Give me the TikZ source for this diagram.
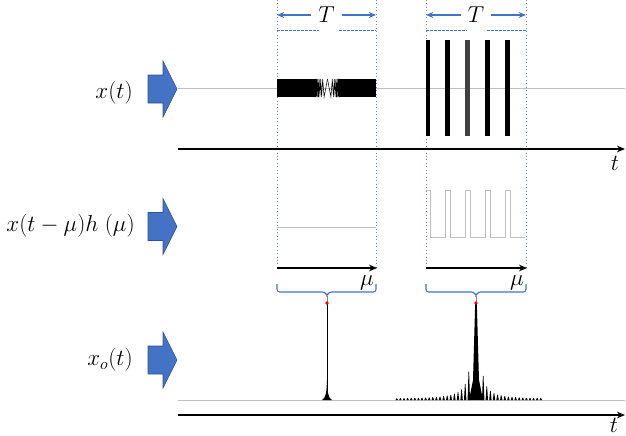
\documentclass[tikz,border=0pt]{standalone}
\usetikzlibrary{arrows.meta}
\definecolor{ppblue}{HTML}{4472C4}
\definecolor{ppdark}{HTML}{2F528F}
\begin{document}
\begin{tikzpicture}[x=0.75pt,y=0.75pt,
  lbl/.style={font=\fontsize{17}{20}\selectfont, inner sep=0pt},
  blockarrow/.style={fill=ppblue, draw=ppdark, line width=0.4pt},
  guide/.style={draw=ppblue!80, dotted, line width=0.6pt},
  hdash/.style={draw=ppblue, dash pattern=on 2pt off 1pt, line width=0.6pt},
  tarrow/.style={draw=ppblue, line width=0.8pt, -{Stealth[length=5.5pt,width=4.5pt]}},
  axis/.style={draw=black, line width=0.8pt, -{Stealth[length=6pt,width=5pt]}},
  base/.style={draw=black!25, line width=0.5pt},
  bracestyle/.style={draw=ppblue, line width=0.8pt, rounded corners=2pt},
  reddot/.style={fill=red},
]
\useasboundingbox (0,0) rectangle (626,-436);

% guides
\foreach \x in {277,376,426,526} \draw[guide] (\x,0) -- (\x,-268);
\draw[hdash] (277,-30) -- (319,-30) (339,-30) -- (376,-30);
\draw[hdash] (426,-30) -- (467,-30) (487,-30) -- (526,-30);

% T arrows
\node[lbl, inner xsep=5pt] (T1) at (326.5,-15) {$T$};
\coordinate (T1l) at (277,-15); \coordinate (T1r) at (376,-15);
\draw[tarrow] (T1) -- (T1l); \draw[tarrow] (T1) -- (T1r);
\node[lbl, inner xsep=5pt] (T2) at (476,-15) {$T$};
\coordinate (T2l) at (426,-15); \coordinate (T2r) at (526,-15);
\draw[tarrow] (T2) -- (T2l); \draw[tarrow] (T2) -- (T2r);

% labels and block arrows
\node[lbl, anchor=east] (lx) at (133,-93) {$x(t)$};
\node[lbl, anchor=east] (lxh) at (135,-226) {$x(t-\mu)h\;(\mu)$};
\node[lbl, anchor=east] (lxo) at (133,-360) {$x_o(t)$};
\foreach \c in {89,226.5,360}{
  \filldraw[blockarrow] (148,-\c+14) -- (163,-\c+14) -- (163,-\c+28) -- (177,-\c) -- (163,-\c-28) -- (163,-\c-14) -- (148,-\c-14) -- cycle;
}

% row 1
\draw[base] (178,-88) -- (625,-88);
\fill (277,-79) rectangle (316,-97);
\fill (339,-79) rectangle (376,-97);
\draw[line width=0.4pt] (327.5,-79) \foreach \n in {1,...,15}{ -- ({327.5-3.4*sqrt(\n)},{-88+9*cos(180*\n)}) };
\draw[line width=0.4pt] (327.5,-79) \foreach \n in {1,...,15}{ -- ({327.5+3.4*sqrt(\n)},{-88+9*cos(180*\n)}) };
\foreach \a/\b in {426/430,445/450,485/490,505/510} \fill (\a+0.3,-40) rectangle (\b-0.5,-136);
\fill[black!75] (465.3,-40) rectangle (469.5,-136);
\coordinate (a1s) at (178,-149); \coordinate (a1e) at (625,-149);
\draw[axis] (a1s) -- (a1e);
\node[lbl] (t1) at (615,-163) {$t$};

% row 2
\draw[base] (277,-227) -- (376,-227);
\draw[base] (426,-190) -- (430,-190) -- (430,-237) -- (445,-237) -- (445,-190) -- (450,-190) -- (450,-237) -- (465,-237) -- (465,-190) -- (470,-190) -- (470,-237) -- (485,-237) -- (485,-190) -- (490,-190) -- (490,-237) -- (505,-237) -- (505,-190) -- (510,-190) -- (510,-237) -- (525,-237);
\coordinate (m1s) at (277,-268); \coordinate (m1e) at (377,-268);
\coordinate (m2s) at (426,-268); \coordinate (m2e) at (527,-268);
\draw[axis] (m1s) -- (m1e);
\draw[axis] (m2s) -- (m2e);
\node[lbl] (mu1) at (367,-283) {$\mu$};
\node[lbl] (mu2) at (517,-283) {$\mu$};

% braces
\draw[bracestyle] (277,-284) -- (277,-292) -- (325,-292) -- (327,-296) -- (329,-292) -- (376,-292) -- (376,-284);
\draw[bracestyle] (426,-284) -- (426,-292) -- (474,-292) -- (476,-296) -- (478,-292) -- (526,-292) -- (526,-284);
\coordinate (b1) at (327,-296); \coordinate (b2) at (476,-296);

% row 3
\draw[base] (178,-400) -- (625,-400);
\coordinate (p1) at (327,-303); \coordinate (p2) at (476,-303);
\draw[black!50, line width=0.5pt] (b1) -- (p1);
\draw[black!50, line width=0.5pt] (b2) -- (p2);
\draw[black, line width=0.6pt] (p1) -- (327,-400);
\fill (322,-400) .. controls (326,-398) and (326.5,-392) .. (327,-380) .. controls (327.5,-392) and (328,-398) .. (332,-400) -- cycle;
% second spike
\fill (469,-400) -- (473,-380) -- (475.2,-303) -- (476.8,-303) -- (479,-380) -- (483,-400) -- cycle;
\foreach \k in {2,...,22}{
  \pgfmathsetmacro{\d}{3.6*\k}
  \pgfmathsetmacro{\h}{1.3*min(40,407/(\d^1.5))+1}
  \fill (476-\d-1.2,-400) -- (476-\d-0.3,-400+\h) -- (476-\d+0.3,-400+\h) -- (476-\d+1.2,-400) -- cycle;
}
\foreach \k in {2,...,18}{
  \pgfmathsetmacro{\d}{3.6*\k}
  \pgfmathsetmacro{\h}{1.1*min(40,407/(\d^1.5))+1}
  \fill (476+\d-1.2,-400) -- (476+\d-0.3,-400+\h) -- (476+\d+0.3,-400+\h) -- (476+\d+1.2,-400) -- cycle;
}
\fill[reddot] (p1) circle (1.8);
\fill[reddot] (p2) circle (1.8);
\coordinate (a3s) at (178,-415); \coordinate (a3e) at (625,-415);
\draw[axis] (a3s) -- (a3e);
\node[lbl] (t3) at (614,-425) {$t$};
\end{tikzpicture}
\end{document}
